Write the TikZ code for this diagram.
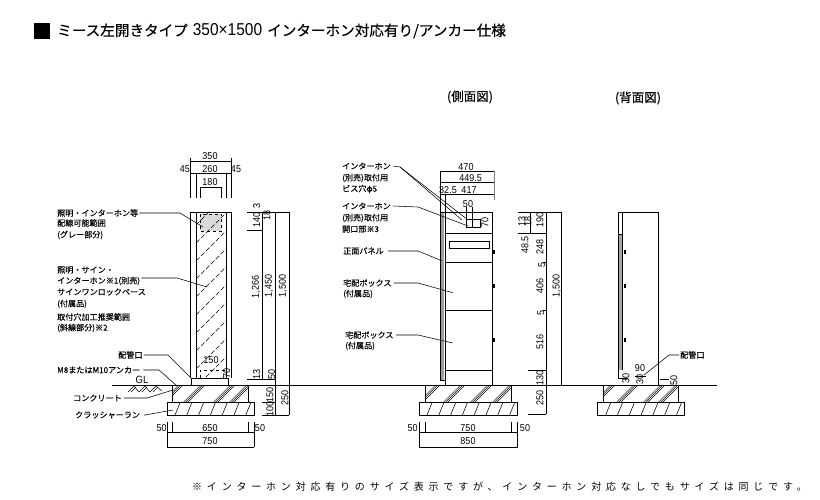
\documentclass[tikz,border=0pt]{standalone}
\usepackage{fontspec}
\setmainfont[FakeBold=.25]{Noto Sans CJK JP}
\newfontfamily\dimfont[FakeStretch=.9]{Liberation Sans}
\newfontfamily\widefont[LetterSpace=48]{Noto Sans CJK JP}
\tikzset{
  lbl/.style={anchor=west,inner sep=0pt,font=\fontsize{8.1}{9}\selectfont},
  dimh/.style={inner sep=0pt,font=\dimfont\fontsize{10}{11}\selectfont},
  dimv/.style={dimh,rotate=90},
  dimln/.style={line width=.45pt},
  body/.style={line width=.7pt},
  leader/.style={line width=.55pt},
  heading/.style={inner sep=0pt,font=\fontsize{12.5}{14}\selectfont}
}
\begin{document}
\begin{tikzpicture}[x=1pt,y=-1pt]
	  \useasboundingbox (0,0) rectangle (820,500);
	  % title and note
	  \node[fill=black,minimum width=16pt,minimum height=16pt,inner sep=0pt] (mark) at (41.5,31) {};
	  \node[anchor=west,inner sep=0pt,font=\fontsize{14.6}{16}\selectfont] (title) at (57,31)
	  {ミース左開きタイプ\hspace{5pt}{\dimfont\fontsize{17.2}{17}\selectfont 350×1500}\hspace{5pt}インターホン対応有り/アンカー仕様};
	  \node[anchor=west,inner sep=0pt,font=\widefont\fontsize{10}{11}\selectfont] (note) at (192,487)
	  {※インターホン対応有りのサイズ表示ですが、インターホン対応なしでもサイズは同じです。};
	  \node[heading] (sidehead) at (470,97) {(側面図)};
	  \node[heading] (backhead) at (638,98) {(背面図)};
	  % ground and footings
	  \draw[body](112,385) -- (717,385);
	  \foreach \ca/\cb/\ka/\kb/\ha/\hb/\hc/\hd in
	  {172.7/248/167/254/183/205/235/251, 425/511.7/419/517.7/440/465/492/514,
	  603/678.7/597.7/684/615/638/665/680}
	  {
		\draw[dimln](\ca,385) rectangle (\cb,402.7);
		\draw[body](\ka,402.7) rectangle (\kb,415);
		\begin{scope}
		  \clip (\ca,385) rectangle (\cb,402.7);
		  \foreach \p in {\ha,\hb,\hc,\hd}
		  \foreach \o in {0,2.2,4.4}
		  \draw[dimln](\p-\o,385) -- +(-17.7,17.7);
		\end{scope}
		\begin{scope}
		  \clip (\ka,402.7) rectangle (\kb,415);
		  \foreach \i in {0,...,8}
		  \draw[leader](\ka+13+\i*11.8,402.7) -- +(-5,12.3);
		\end{scope}
	  }
	  % front view
	  \draw[body](190,378) -- (190,212) -- (231,212) -- (231,378);
	  \draw[body](196,378) -- (196,212);
	  \draw[body](226,378) -- (226,212);
	  \draw[body](191,385) -- (191,378) -- (228,378) -- (228,385);
	  \fill[gray!28](200,214) rectangle (221,231);
	  \draw[dimln,dashed](200,214) rectangle (221.5,231.5);
	  \draw[dimln,dashed](200,378) -- (200,370) -- (225,370);
	  \begin{scope}
		\clip (196,212) rectangle (226,378);
		\foreach \i in {225,243,...,420}
		\draw[dimln,dash pattern=on 5pt off 2pt](196,\i) -- +(30,-30);
	  \end{scope}
	  % front view dimensions
	  \draw[dimln](190,161) -- (231,161);
	  \draw[dimln](190,173) -- (231,173);
	  \draw[dimln](200,187) -- (221.7,187);
	  \foreach \x/\y in {190/158,196/173,226/173,231/158,200/187,221.7/187}
	  \draw[dimln](\x,\y) -- (\x,198);
	  \draw[dimln](247,212) -- (289,212);
	  \draw[dimln](247,230) -- (262,230);
	  \draw[dimln](247,379) -- (276,379);
	  \draw[dimln](262,402.7) -- (276,402.7);
	  \draw[dimln](262,415) -- (289,415);
	  \draw[dimln](262,212) -- (262,379);
	  \draw[dimln](275.7,212) -- (275.7,415);
	  \draw[dimln](289,212) -- (289,415);
	  \draw[dimln](167,422) -- (167,447);
	  \draw[dimln](172.7,422) -- (172.7,432);
	  \draw[dimln](248,422) -- (248,432);
	  \draw[dimln](254,422) -- (254,447);
	  \draw[dimln](167,432) -- (254,432);
	  \draw[dimln](167,447) -- (254,447);
	  % side view
	  \fill[gray!75](440.5,212) rectangle (443.5,380);
	  \draw[body](440,380) -- (440,212) -- (492.7,212) -- (492.7,385);
	  \draw[body](445,385) -- (445,212);
	  \draw[body](440,380) -- (445,380);
	  \foreach \y in {233,262,310,370}
	  \draw[body](445,\y) -- (492.7,\y);
	  \draw[body](449,241.7) rectangle (489,248);
	  \foreach \y [count=\n] in {252,285.7,340}
	  \node[fill=black,minimum width=2.5pt,minimum height=4pt,inner sep=0pt] (sideknob\n) at (493.7,\y) {};
	  \draw[body](466,219) rectangle (472,227);
	  \draw[dimln](473,219) -- (480,219) -- (480,227) -- (473,227);
	  \draw[dimln](466,207) -- (466,219);
	  \draw[dimln](472,207) -- (472,219);
	  % side view dimensions
	  \draw[dimln](440,171) -- (494,171);
	  \draw[dimln](440,182) -- (494,182);
	  \draw[dimln](440,194) -- (494,194);
	  \draw[dimln](440,171) -- (440,212);
	  \draw[dimln](445,194) -- (445,212);
	  \draw[line width=1pt,gray](494,171) -- (494,200);
	  \draw[dimln](518,212) -- (561,212);
	  \draw[dimln](518,233) -- (546,233);
	  \draw[dimln](530,212) -- (530,233);
	  \draw[dimln](528,370) -- (546,370);
	  \draw[dimln](528,385) -- (546,385);
	  \draw[dimln](528,414) -- (546,414);
	  \foreach \y in {262,310}
	  \draw[dimln](543,\y) -- (546,\y);
	  \draw[dimln](546,212) -- (546,414);
	  \draw[dimln](561,212) -- (561,385);
	  \draw[dimln](419,422) -- (419,447);
	  \draw[dimln](425,422) -- (425,432);
	  \draw[dimln](511.7,422) -- (511.7,432);
	  \draw[dimln](517.7,422) -- (517.7,447);
	  \draw[dimln](419,432) -- (517.7,432);
	  \draw[dimln](419,447) -- (517.7,447);
	  % back view
	  \fill[gray!70](618,234) rectangle (622,370);
	  \draw[body](618,378) -- (618,212) -- (658,212) -- (658,385);
	  \draw[body](622,370) -- (622,212);
	  \draw[body](618,234) -- (622,234);
	  \draw[body](618,378) -- (628,378);
	  \foreach \y [count=\n] in {252,285.7,340}
	  \node[fill=black,minimum width=2.5pt,minimum height=4pt,inner sep=0pt] (backknob\n) at (625,\y) {};
	  \draw[dimln](635,376) -- (646,376);
	  \draw[dimln](660,379) -- (669,379);
	  % ground mark
	  \node[dimh,font=\dimfont\fontsize{10.5}{11}\selectfont] (gl) at (142,380) {GL};
	  \draw[dimln](128,392) -- (134,386) -- (139,392) -- (145,386) -- (150,392) -- (156,386) -- (162,391);
	  \foreach \x in {131,142,153}
	  \draw[dimln](\x,392) -- +(5,-5);
	  % dimension texts
	  \foreach \x/\y/\t [count=\n] in {210/156/350,185/169/45,210/169/260,236/169/45,
	  210/182/180,211/360/150,161.7/428/50,210/428/650,260/428/50,210/441/750,
	  466/166.7/470,470.7/178/449.5,448/190/32.5,469/190/417,468/204/50,
	  412.7/428/50,468/428/750,525/428/50,468/441/850,640/368/90}
	  \node[dimh] (hdim\n) at (\x,\y) {\t};
	  \foreach \x/\y/\t [count=\n] in {256.7/206/3,256.7/220/140,267/215/18,256/287/{1,266},
	  269/286/{1,450},283/286/{1,500},226.7/373/70,256.7/374/13,271.7/374/50,
	  270/395/150,270/409/100,285/398/250,485/222.7/70,
	  522/221/13,528/221/18,525/245/48.5,540/220/190,540/246.7/248,541.7/265/5,
	  540/285.7/406,556.7/286/{1,500},540.7/312.7/5,540/341.7/516,540/378/130,
	  540/398/250,626/378/30,640/379/30,674/380/50}
	  \node[dimv] (vdim\n) at (\x,\y) {\t};
	  % labels of the front view
	  \node[lbl] (wiring) at (57,213) {照明・インターホン等};
	  \node[lbl] (wiringb) at (57,223) {配線可能範囲};
	  \node[lbl] (wiringc) at (57,235) {(グレー部分)};
	  \node[lbl] (lamp) at (57,270) {照明・サイン・};
	  \node[lbl] (lampb) at (57,281) {インターホン※1(別売)};
	  \node[lbl] (lampc) at (57,292) {サインワンロックベース};
	  \node[lbl] (lampd) at (57,304) {(付属品)};
	  \node[lbl] (lampe) at (57,317) {取付穴加工推奨範囲};
	  \node[lbl] (lampf) at (57,328) {(斜線部分)※2};
	  \node[lbl] (pipe) at (118,355) {配管口};
	  \node[lbl] (anchor) at (57,370) {M8またはM10アンカー};
	  \node[lbl] (conc) at (73,398) {コンクリート};
	  \node[lbl] (crush) at (75,415) {クラッシャーラン};
	  % labels of the side view
	  \node[lbl] (phone) at (342,166) {インターホン};
	  \node[lbl] (phoneb) at (342,178) {(別売)取付用};
	  \node[lbl] (phonec) at (342,189) {ビス穴φ5};
	  \node[lbl] (hole) at (342,206) {インターホン};
	  \node[lbl] (holeb) at (342,218) {(別売)取付用};
	  \node[lbl] (holec) at (342,229) {開口部※3};
	  \node[lbl] (panel) at (343,251) {正面パネル};
	  \node[lbl] (box) at (343,283) {宅配ボックス};
	  \node[lbl] (boxb) at (343,294) {(付属品)};
	  \node[lbl] (lowbox) at (345,335) {宅配ボックス};
	  \node[lbl] (lowboxb) at (345,346) {(付属品)};
	  \node[lbl] (backpipe) at (680,355) {配管口};
	  % leaders
	  \coordinate (wiringtip) at (203,227);
	  \coordinate (lamptip) at (207,287);
	  \coordinate (pipetip) at (190,377);
	  \coordinate (anchortip) at (177,386);
	  \coordinate (conctip) at (173,390);
	  \coordinate (crushtip) at (173,410);
	  \coordinate (phonetipa) at (468,220);
	  \coordinate (phonetipb) at (462,220);
	  \coordinate (holetip) at (468,226);
	  \coordinate (paneltip) at (441.7,260.7);
	  \coordinate (boxtip) at (452.7,292.7);
	  \coordinate (lowboxtip) at (452.7,343);
	  \coordinate (backpipetip) at (644,375);
	  \draw[leader](wiring.east) ++(1,0) -- (180,213) -- (wiringtip);
	  \draw[leader](lampb.east) ++(1,-3) -- (177,278) -- (lamptip);
	  \draw[leader](pipe.east) ++(1,0) -- (168,355) -- (pipetip);
	  \draw[leader](anchor.east) ++(3,0) -- (159,370) -- (anchortip);
	  \draw[leader](conc.east) ++(2,0) -- (147,398) -- (conctip);
	  \draw[leader](crush.east) ++(4,0) -- (145,415) -- (crushtip);
	  \draw[leader](phone.east) ++(2,0) -- (400,167) -- (phonetipa);
	  \draw[leader](400,167) -- (phonetipb);
	  \draw[leader](hole.east) ++(2,0) -- (418,207) -- (holetip);
	  \draw[leader](panel.east) ++(4,0) -- (418,251) -- (paneltip);
	  \draw[leader](box.east) ++(2,0) -- (418,283) -- (boxtip);
	  \draw[leader](lowbox.east) ++(2,0) -- (418,335) -- (lowboxtip);
	  \draw[leader](backpipe.west) ++(-1,0) -- (669,355) -- (backpipetip);
	\end{tikzpicture}
\end{document}
